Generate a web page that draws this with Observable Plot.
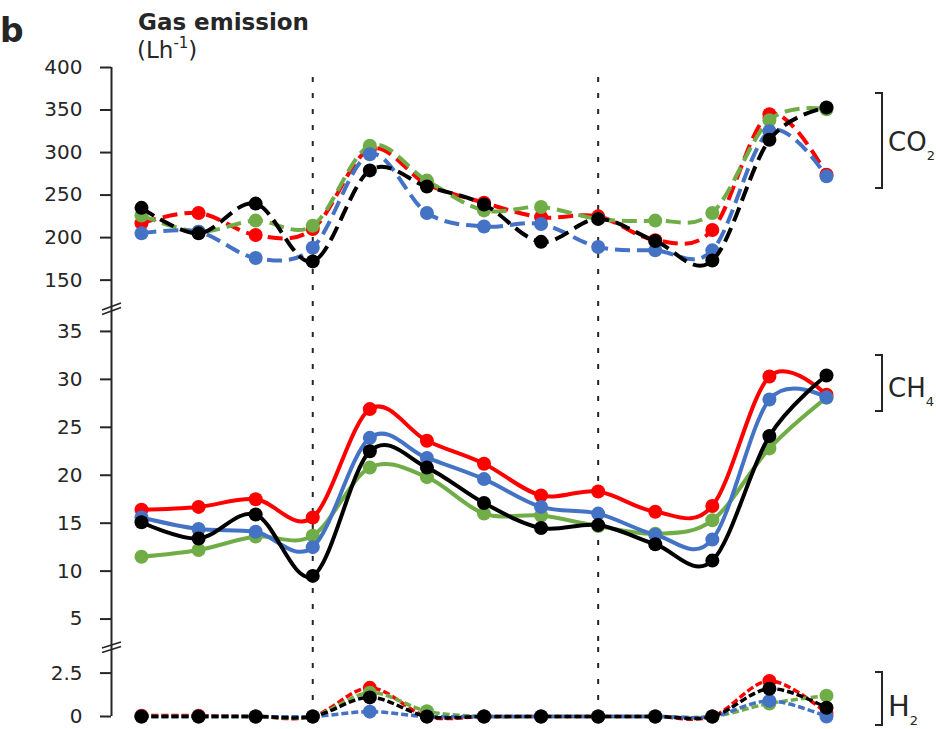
<!DOCTYPE html>
<html>
<head>
<meta charset="utf-8">
<script src="https://cdn.jsdelivr.net/npm/d3@7"></script>
<script src="https://cdn.jsdelivr.net/npm/@observablehq/plot@0.6"></script>
<style>
  body { margin: 0; background: #fff; }
  #wrap { position: relative; width: 936px; height: 729px; overflow: hidden; background: #fff; }
  #wrap svg { position: absolute; left: 0; }
</style>
</head>
<body>
<div id="wrap"></div>
<script>
// ---------- data ----------
const samples = [0, 1, 2, 3, 4, 5, 6, 7, 8, 9, 10, 11, 12];
const dividers = [3, 8];
const seriesNames = ["red", "green", "blue", "black"];
const seriesColors = ["#FF0000", "#70AD47", "#4472C4", "#000000"];

// CO2 (L h-1)
const co2Red   = [217, 229, 203, 210, 304, 263, 241, 224, 225, 197, 209, 345, 274];
const co2Green = [226, 207, 220, 214, 308, 267, 232, 236, 222, 220, 229, 338, 351];
const co2Blue  = [205, 207, 176, 188, 298, 229, 213, 216, 189, 185, 185, 325, 272];
const co2Black = [235, 205, 240, 172, 279, 260, 239, 195, 222, 196, 173, 315, 353];

// CH4 (L h-1)
const ch4Red   = [16.4, 16.7, 17.5, 15.6, 26.9, 23.6, 21.2, 17.9, 18.3, 16.2, 16.8, 30.3, 28.4];
const ch4Green = [11.5, 12.2, 13.6, 13.7, 20.8, 19.8, 16.0, 15.8, 14.7, 13.9, 15.3, 22.8, 28.1];
const ch4Blue  = [15.6, 14.4, 14.1, 12.5, 23.9, 21.8, 19.6, 16.7, 16.0, 13.8, 13.3, 27.9, 28.1];
const ch4Black = [15.1, 13.4, 15.9, 9.5, 22.5, 20.8, 17.1, 14.5, 14.8, 12.8, 11.1, 24.1, 30.4];

// H2 (L h-1)
const h2Red   = [0.05, 0.05, 0, 0, 1.65, 0, 0, 0, 0, 0, 0, 2.05, 0.2];
const h2Green = [0, 0, 0, 0, 1.37, 0.3, 0, 0, 0, 0, 0, 0.75, 1.2];
const h2Blue  = [0, 0, 0, 0, 0.28, 0, 0, 0, 0, 0, 0, 0.9, 0];
const h2Black = [0, 0, 0, 0, 1.1, 0, 0, 0, 0, 0, 0, 1.6, 0.5];

// tick labels
const co2Ticks = [150, 200, 250, 300, 350, 400];
const ch4Ticks = [5, 10, 15, 20, 25, 30, 35];
const h2Ticks = [0, 2.5];

// ---------- build ----------
const ink = "#262626";
const font = "DejaVu Sans";

function rows(lists) {
  const out = [];
  lists.forEach((vals, i) => vals.forEach((v, j) => out.push({x: samples[j], y: v, series: seriesNames[i]})));
  return out;
}

function panel({lists, domain, ticks, top, height, marginTop, marginBottom, dash, lineWidth}) {
  const data = rows(lists);
  const marks = [
    Plot.ruleX(dividers, {y1: domain[0], y2: domain[1], stroke: ink, strokeWidth: 2, strokeDasharray: "5,11"}),
    Plot.ruleX([0], {dx: -30, y1: domain[0], y2: domain[1], stroke: ink, strokeWidth: 2}),
    Plot.axisY({ticks, tickSize: 11, tickPadding: 18, tickFormat: d => String(d), strokeWidth: 2, stroke: ink, fill: ink, fontSize: 20, label: null})
  ];
  seriesNames.forEach((s, i) => {
    const sub = data.filter(d => d.series === s);
    marks.push(Plot.line(sub, {x: "x", y: "y", stroke: seriesColors[i], strokeWidth: lineWidth, strokeDasharray: dash, strokeLinecap: "butt", curve: "cardinal"}));
    marks.push(Plot.dot(sub, {x: "x", y: "y", r: 7, fill: seriesColors[i], stroke: "none"}));
  });
  const svg = Plot.plot({
    width: 936, height,
    marginLeft: 111, marginRight: 110, marginTop, marginBottom,
    x: {domain: [0, 12], range: [141, 826], axis: null},
    y: {domain, axis: null},
    style: {fontFamily: font, fontSize: "20px", color: ink, background: "transparent", overflow: "visible"},
    marks
  });
  svg.style.top = top + "px";
  svg.style.left = "0px";
  return svg;
}

const wrap = document.getElementById("wrap");
wrap.appendChild(panel({lists: [co2Red, co2Green, co2Blue, co2Black], domain: [119, 400], ticks: co2Ticks,
  top: 60, height: 246, marginTop: 7, marginBottom: 0, dash: "15,7", lineWidth: 4}));
wrap.appendChild(panel({lists: [ch4Red, ch4Green, ch4Blue, ch4Black], domain: [2.66, 37.6], ticks: ch4Ticks,
  top: 306, height: 335, marginTop: 0, marginBottom: 0, dash: null, lineWidth: 4}));
wrap.appendChild(panel({lists: [h2Red, h2Green, h2Blue, h2Black], domain: [0, 4.32], ticks: h2Ticks,
  top: 641, height: 88, marginTop: 0, marginBottom: 13, dash: "7,3", lineWidth: 3.5}));

// ---------- annotations (titles, axis breaks, gas brackets) ----------
const ov = d3.create("svg").attr("width", 936).attr("height", 729)
  .style("top", "0px").style("pointer-events", "none")
  .attr("font-family", font).attr("fill", ink);

ov.append("text").attr("x", 0).attr("y", 42).attr("font-size", 33).attr("font-weight", "bold").text("b");
ov.append("text").attr("x", 138).attr("y", 30).attr("font-size", 23).attr("font-weight", "bold").text("Gas emission");
const unit = ov.append("text").attr("x", 137).attr("y", 58).attr("font-size", 23);
unit.append("tspan").text("(Lh");
unit.append("tspan").attr("font-size", 15).attr("dy", -10).text("-1");
unit.append("tspan").attr("dy", 10).text(")");

// axis break marks
[[310, 303], [648, 642]].forEach(([a, b]) => {
  [0, 4.5].forEach(off => {
    ov.append("line").attr("x1", 102).attr("y1", a + off).attr("x2", 121).attr("y2", b + off)
      .attr("stroke", ink).attr("stroke-width", 1.8);
  });
});

// brackets and gas labels
const gases = [
  {y0: 93, y1: 188, base: 151, main: "CO", sub: "2", size: 26},
  {y0: 355, y1: 411, base: 397, main: "CH", sub: "4", size: 26},
  {y0: 672, y1: 725, base: 716, main: "H", sub: "2", size: 29}
];
gases.forEach(g => {
  ov.append("path").attr("d", `M875,${g.y0}H882V${g.y1}H875`).attr("fill", "none").attr("stroke", ink).attr("stroke-width", 2);
  const t = ov.append("text").attr("x", 888).attr("y", g.base).attr("font-size", g.size);
  t.append("tspan").text(g.main);
  t.append("tspan").attr("font-size", 13).attr("dy", 9).text(g.sub);
});
wrap.appendChild(ov.node());
</script>
</body>
</html>
